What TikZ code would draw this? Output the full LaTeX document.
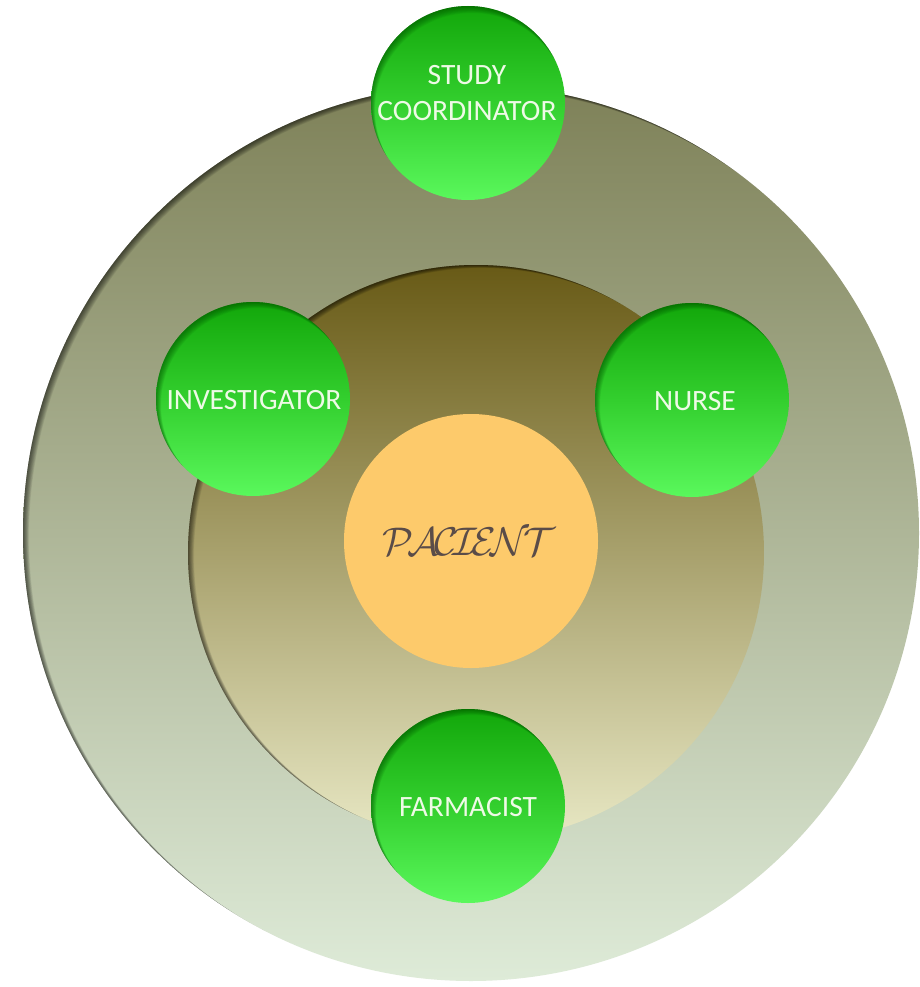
\documentclass[tikz,border=0pt]{standalone}
\usepackage{fontspec}
\setmainfont{Carlito}
\usepackage{graphicx}
\definecolor{outerTop}{HTML}{7E8158}
\definecolor{outerMid}{HTML}{ADBA8E}
\definecolor{outerBot}{HTML}{DEEBD8}
\definecolor{innerTop}{HTML}{685A16}
\definecolor{innerMid}{HTML}{B0AC6A}
\definecolor{innerBot}{HTML}{E8E8C4}
\definecolor{greenTop}{HTML}{12A70A}
\definecolor{greenMid}{HTML}{33CF2E}
\definecolor{greenBot}{HTML}{5AF85C}
\definecolor{pacFill}{HTML}{FDCA6B}
\definecolor{pacText}{HTML}{5A4C48}
\definecolor{labelText}{HTML}{EEFAE6}
\newcommand\myinshadow[5]{%
  \begin{scope}
    \clip (#1.center) circle (#2);
    \foreach \k in {1,...,10}{
      \draw[#5, opacity=0.07, line width=60pt]
        ([shift={(\k*#3/10,\k*#4/10)}]#1.center) circle ({#2+30pt});
    }
  \end{scope}}
\tikzset{
  ring/.style={circle, inner sep=0pt, draw=none},
  rolebox/.style={circle, inner sep=0pt, minimum size=194pt, draw=none,
    top color=greenTop, bottom color=greenBot, middle color=greenMid},
  rolelabel/.style={text=labelText, align=center, font=\fontsize{29.5}{36}\selectfont},
}
\begin{document}
\begin{tikzpicture}[x=1pt,y=-1pt]
\useasboundingbox (0,0) rectangle (920,987);
\fill[white] (0,0) rectangle (920,987);
% outer ring
\node[ring, minimum size=896pt, top color=outerTop, middle color=outerMid, bottom color=outerBot] (outer) at (471,533) {};
\myinshadow{outer}{448pt}{6}{4}{black}
% inner ring
\node[ring, minimum size=576pt, top color=innerTop, middle color=innerMid, bottom color=innerBot] (inner) at (476,553) {};
\myinshadow{inner}{288pt}{6}{3}{black}
% roles
\node[rolebox] (study) at (468,103) {};
\myinshadow{study}{97pt}{4}{7}{black!70!green}
\node[rolelabel] (studyt) at (467,93) {STUDY\\COORDINATOR};
\node[rolebox] (invest) at (253,399) {};
\myinshadow{invest}{97pt}{5}{6}{black!70!green}
\node[rolelabel] (investt) at (254,400) {INVESTIGATOR};
\node[rolebox] (nurse) at (692,400) {};
\myinshadow{nurse}{97pt}{5}{6}{black!70!green}
\node[rolelabel] (nurset) at (695,401) {NURSE};
\node[rolebox] (farm) at (468,806) {};
\myinshadow{farm}{97pt}{5}{6}{black!70!green}
\node[rolelabel] (farmt) at (468,807) {FARMACIST};
% patient
\node[ring, minimum size=254pt, fill=pacFill] (pac) at (471,541) {};
\node[text=pacText] (pact) at (469,542) {\scalebox{4.0}{$\mathcal{P}\mkern-2.5mu\mathcal{A}\mkern-2.5mu\mathcal{C}\mkern-2.5mu\mathcal{I}\mkern-2.5mu\mathcal{E}\mkern-2.5mu\mathcal{N}\mkern-2.5mu\mathcal{T}$}};
\end{tikzpicture}
\end{document}
